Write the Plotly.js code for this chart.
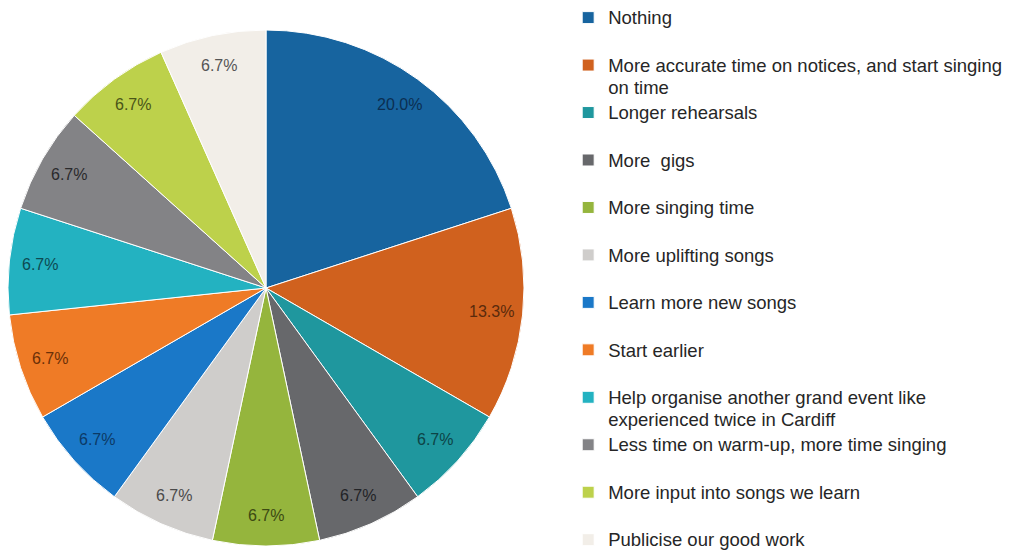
<!DOCTYPE html>
<html><head><meta charset="utf-8">
<script src="https://cdn.plot.ly/plotly-3.0.1.min.js"></script>
<style>html,body{margin:0;padding:0;background:#fff;}#chart{width:1011px;height:550px;}</style>
</head><body><div id="chart"></div>
<script>
// ---- data ----
const categories = [
  'Nothing',
  'More accurate time on notices, and start singing<br>on time',
  'Longer rehearsals',
  'More  gigs',
  'More singing time',
  'More uplifting songs',
  'Learn more new songs',
  'Start earlier',
  'Help organise another grand event like<br>experienced twice in Cardiff',
  'Less time on warm-up, more time singing',
  'More input into songs we learn',
  'Publicise our good work'
];
const counts = [3, 2, 1, 1, 1, 1, 1, 1, 1, 1, 1, 1];

// ---- style ----
const sliceColors = ['#17649f','#d0611e','#1f979e','#67686b','#95b53d','#cfcdcb',
                     '#1a78c8','#ef7b26','#23b2c1','#838386','#bdd14b','#f2eee8'];
const textColors = ['#0b2f52','#5a2a0c','#0d4446','#222326','#3c4a12','#4a4a4a',
                    '#0c3a66','#6a3008','#0d4a52','#2a2a2c','#4a5518','#555555'];
const W = 1011, H = 550;
const pieLeft = 8, pieTop = 30, pieSize = 516;
const labelR = 0.88;

const total = counts.reduce((a, b) => a + b, 0);
const legendLabels = categories.map((c, i) => {
  const lines = c.split('<br>');
  if (lines.length === 1 && i < categories.length - 1) lines.push('\u00a0');
  return lines.map(l => '<span style="font-size:18.5px">' + l + '</span>').join('<br>');
});

// label annotations computed from data
const cx = pieLeft + pieSize / 2, cy = pieTop + pieSize / 2, r = pieSize / 2;
let cum = 0;
const annotations = counts.map((v, i) => {
  const mid = (cum + v / 2) / total * 2 * Math.PI;
  cum += v;
  const px = cx + labelR * r * Math.sin(mid);
  const py = cy - labelR * r * Math.cos(mid);
  return {
    x: px / W, y: 1 - py / H, xref: 'paper', yref: 'paper',
    text: (v / total * 100).toFixed(1) + '%', showarrow: false,
    font: {family: 'Liberation Sans, Arial, sans-serif', size: 16, color: textColors[i]},
    xanchor: 'center', yanchor: 'middle'
  };
});

const trace = {
  type: 'pie',
  labels: legendLabels,
  values: counts,
  sort: false,
  direction: 'clockwise',
  rotation: 0,
  textinfo: 'none',
  hoverinfo: 'skip',
  marker: {colors: sliceColors, line: {color: '#ffffff', width: 1}},
  domain: {x: [pieLeft / W, (pieLeft + pieSize) / W], y: [1 - (pieTop + pieSize) / H, 1 - pieTop / H]}
};

const layout = {
  width: W, height: H,
  margin: {l: 0, r: 0, t: 0, b: 0},
  paper_bgcolor: '#ffffff',
  showlegend: true,
  legend: {
    x: 0.562, y: 1, xanchor: 'left', yanchor: 'top',
    valign: 'top',
    font: {family: 'Liberation Sans, Arial, sans-serif', size: 17.1, color: '#262626'},
    bgcolor: 'rgba(0,0,0,0)'
  },
  annotations: annotations
};

Plotly.newPlot('chart', [trace], layout, {displayModeBar: false, staticPlot: true});
</script>
</body></html>
